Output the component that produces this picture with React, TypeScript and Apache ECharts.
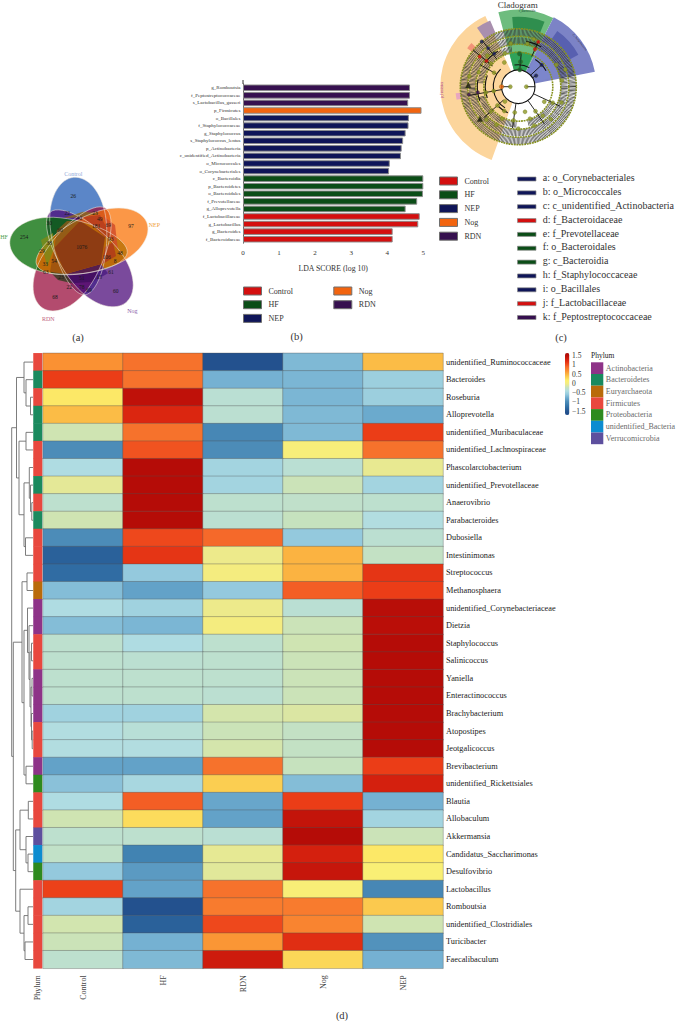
import React, { useEffect, useRef } from "react";
import * as echarts from "echarts";

const SERIF = "'Liberation Serif', serif";

// ---------- (b) LDA ----------
const ldaGroups = ["Control", "HF", "NEP", "Nog", "RDN"];
const ldaColors = ["#d40f0f", "#0b4d17", "#0f1558", "#f2640f", "#36104f"];
const ldaNames = [
  "g_Romboutsia", "f_Peptostreptococcaceae", "s_Lactobacillus_gasseri", "p_Firmicutes", "o_Bacillales",
  "f_Staphylococcaceae", "g_Staphylococcus", "s_Staphylococcus_lentus", "p_Actinobacteria", "c_unidentified_Actinobacteria",
  "o_Micrococcales", "o_Corynebacteriales", "c_Bacteroidia", "p_Bacteroidetes", "o_Bacteroidales",
  "f_Prevotellaceae", "g_Alloprevotella", "f_Lactobacillaceae", "g_Lactobacillus", "g_Bacteroides", "f_Bacteroidaceae",
];
const ldaValues = [4.63, 4.63, 4.58, 4.95, 4.6, 4.59, 4.51, 4.44, 4.4, 4.38, 4.07, 4.05, 5, 5, 4.99, 4.83, 4.51, 4.9, 4.86, 4.15, 4.15];
const ldaGroupOf = ["RDN", "RDN", "RDN", "Nog", "NEP", "NEP", "NEP", "NEP", "NEP", "NEP", "NEP", "NEP", "HF", "HF", "HF", "HF", "HF", "Control", "Control", "Control", "Control"];

// ---------- (d) heatmap ----------
const samples = ["Control", "HF", "RDN", "Nog", "NEP"];
const genera = [
  "unidentified_Ruminococcaceae", "Bacteroides", "Roseburia", "Alloprevotella", "unidentified_Muribaculaceae",
  "unidentified_Lachnospiraceae", "Phascolarctobacterium", "unidentified_Prevotellaceae", "Anaerovibrio", "Parabacteroides",
  "Dubosiella", "Intestinimonas", "Streptococcus", "Methanosphaera", "unidentified_Corynebacteriaceae",
  "Dietzia", "Staphylococcus", "Salinicoccus", "Yaniella", "Enteractinococcus",
  "Brachybacterium", "Atopostipes", "Jeotgalicoccus", "Brevibacterium", "unidentified_Rickettsiales",
  "Blautia", "Allobaculum", "Akkermansia", "Candidatus_Saccharimonas", "Desulfovibrio",
  "Lactobacillus", "Romboutsia", "unidentified_Clostridiales", "Turicibacter", "Faecalibaculum",
];
const zScores = [
  [0.68, 0.85, -1.55, -0.7, 0.45],
  [1.1, 0.85, -0.75, -0.72, -0.55],
  [0.2, 1.45, -0.33, -0.72, -0.55],
  [0.45, 1.25, -0.32, -0.7, -0.8],
  [-0.18, 0.85, -1.05, -0.7, 1.1],
  [-1.0, 1.0, -1.0, 0.06, 0.85],
  [-0.42, 1.55, -0.5, -0.33, -0.07],
  [-0.09, 1.55, -0.5, -0.2, -0.5],
  [-0.3, 1.55, -0.3, -0.28, -0.3],
  [-0.18, 1.55, -0.32, -0.22, -0.4],
  [-1.0, 1.05, 0.9, -0.6, -0.32],
  [-1.4, 1.15, -0.05, 0.5, -0.25],
  [-1.3, -0.6, 0.02, 0.5, 1.15],
  [-0.68, -0.85, -0.6, 0.95, 1.1],
  [-0.42, -0.52, -0.05, -0.33, 1.52],
  [-0.68, -0.72, 0.02, -0.2, 1.5],
  [-0.3, -0.42, -0.3, -0.18, 1.55],
  [-0.3, -0.32, -0.3, -0.2, 1.55],
  [-0.3, -0.3, -0.3, -0.2, 1.55],
  [-0.3, -0.3, -0.32, -0.2, 1.55],
  [-0.52, -0.52, -0.16, -0.13, 1.55],
  [-0.4, -0.35, -0.2, -0.25, 1.55],
  [-0.4, -0.4, -0.16, -0.25, 1.55],
  [-0.85, -0.85, 0.85, -0.22, 1.1],
  [-0.65, -0.47, 0.35, -0.68, 1.3],
  [-0.42, 0.95, -0.82, 1.1, -0.75],
  [-0.18, 0.27, -0.85, 1.42, -0.5],
  [-0.3, -0.3, -0.33, 1.55, -0.2],
  [-0.27, -1.1, -0.08, 1.3, 0.2],
  [-0.6, -0.9, -0.1, 1.4, 0.1],
  [1.08, -0.85, 0.85, 0.08, -1.05],
  [-0.5, -1.55, 0.8, 0.8, 0.38],
  [-0.17, -1.4, 1.05, 0.75, -0.18],
  [-0.2, -0.75, 0.65, 1.2, -0.95],
  [-0.3, -0.7, 1.35, 0.3, -0.75],
];
const heatPalette = [
  "#1c4a8a", "#24528e", "#2c679f", "#3b7dae", "#4f8fba", "#6eaccf", "#95cadd", "#b1dde2", "#c6e2bf", "#f0eb86",
  "#fdf06e", "#fbd052", "#fbae3e", "#fa8a31", "#f5692a", "#ec3f18", "#d8220f", "#bd1009", "#ac0805",
];
const colorbarTicks = ["1.5", "1", "0.5", "0", "−0.5", "−1", "−1.5"];
const phyla = ["Actinobacteria", "Bacteroidetes", "Euryarchaeota", "Firmicutes", "Proteobacteria", "unidentified_Bacteria", "Verrucomicrobia"];
const phylaColors = ["#8e3388", "#1a8a5e", "#b96a0a", "#e8483e", "#2e8a1e", "#0d8cd0", "#5d4f9e"];
const phylumOfRow = [3, 1, 3, 1, 1, 3, 3, 1, 3, 1, 3, 3, 3, 2, 0, 0, 3, 3, 0, 0, 0, 3, 3, 0, 4, 3, 3, 6, 5, 4, 3, 3, 3, 3, 3];

type Tree = number | [number, Tree, Tree];
const dendrogram: Tree = [21.3,
  [16.5,
    [9, 0, [7, 1, [2.5, 2, 3]]],
    [14, [7, 4, 5], [9, [3.7, 6, [2.5, 7, [1.2, 8, 9]]], [7.5, 10, 11]]],
  ],
  [19.7,
    [11,
      [6, 12, 13],
      [9, [5.5, 14, [4, 15, [3, [1.5, 16, 17], [2, [1, 18, 19], [1.5, 20, [0.8, 21, 22]]]]]], [7, 23, 24]],
    ],
    [17.3,
      [13, [4.7, 25, 26], [7, 27, [5, 28, 29]]],
      [13, 30, [9, [5, 31, 32], [8, 33, 34]]],
    ],
  ],
];

// ---------- (a) Venn ----------
const vennSets = ["Control", "NEP", "Nog", "RDN", "HF"];
// colours chosen so that each petal, at its opacity, shows its colour on white
const vennColors = ["#5b86c8", "#f96f00", "#4e0e7b", "#9a0f3e", "#006900"];
const vennOpacity = [1, 0.72, 0.75, 0.75, 0.75];
const vennTurn = [5.5, -69, -140, 148, 84.5];
const vennLabelColors = ["#8fa9d8", "#f0a040", "#8a5aa8", "#c0607e", "#4f9f4f"];
const vennSetLabelPos = [[73.3, 174.3], [154.3, 225.3], [132.3, 311.3], [48.3, 319], [4, 237.3]];
const vennCounts = ["26", "254", "97", "60", "68", "22", "23", "40", "30", "60", "181", "69", "49", "93", "38", "29", "1076", "106", "48", "8", "54", "33", "63", "23", "51", "15", "61", "22", "78", "69"];
const vennCountPos = [
  [73.3, 196], [24, 236.7], [131, 226], [115.7, 291.3], [55, 297], [67.3, 213.3], [95, 212.7], [79.3, 218], [49.3, 223.3], [60, 230],
  [96, 226], [108.3, 225.3], [99.7, 219], [110.7, 239.3], [49.3, 242.7], [42, 251.3], [81.7, 247], [106.7, 257], [120, 253.3], [115, 261],
  [54, 260.7], [45.3, 264.3], [45.7, 272.3], [61, 277], [81.7, 278.3], [99.3, 277], [111, 272], [69.3, 287.3], [81.7, 287.3], [89, 290.3],
];
const vennCore = [[54.3, 247.7], [80, 220.7], [105, 237.3], [101, 264], [65.7, 274]];
// shaded overlap regions of the Venn: colour, then outline
const vennPatchColors = ["#b33a1e", "#cf4a2a", "#b0381c", "#8b5a1a", "#9a5010", "#7d8a1a", "#3f0f5e", "#4a1c80", "#343a20", "#8b6a1e"];
const vennPatches = [
  [[83, 217], [100, 215], [112, 238], [105, 237]],
  [[103, 216], [115, 225], [118, 250], [113, 243]],
  [[105, 247], [113, 242], [116, 256], [101, 265]],
  [[54.3, 247.7], [57, 230], [67, 221], [80, 220.7]],
  [[54.3, 247.7], [65.7, 274], [50, 271.7]],
  [[41, 240], [53, 233], [54.3, 247.7], [47, 267]],
  [[65.7, 274], [101, 264], [93, 281.7], [72, 283.3]],
  [[101, 264], [93, 281.7], [108, 273.3]],
  [[50, 271.7], [65.7, 274], [72, 283.3], [58, 280]],
  [[63, 218.3], [83, 211.7], [100, 213.3], [83, 217]],
];

// ---------- (c) cladogram ----------
const cladeNames = ["a: o_Corynebacteriales", "b: o_Micrococcales", "c: c_unidentified_Actinobacteria", "d: f_Bacteroidaceae", "e: f_Prevotellaceae", "f: o_Bacteroidales", "g: c_Bacteroidia", "h: f_Staphylococcaceae", "i: o_Bacillales", "j: f_Lactobacillaceae", "k: f_Peptostreptococcaceae"];
const cladeGroup = [2, 2, 2, 0, 1, 1, 1, 2, 2, 0, 4];
// [radius, angle]
const cladeOlive = [[8, 180], [8, 0], [25, 190], [33, 190], [28, 222], [37, 222], [46, 226], [28, 240], [36, 243], [44, 240], [20, 228], [26, 262], [34, 262], [42, 270], [26, 285], [34, 290], [42, 292], [30, 305], [38, 310], [46, 315], [30, 330], [38, 335], [46, 340], [28, 150], [36, 140], [44, 135], [28, 120], [36, 112], [44, 100], [44, 78], [50, 72], [44, 30], [50, 20], [44, 8], [50, 168], [42, 160]];
const cladeGreen = [[17, 85], [25, 85], [33, 88]];
const cladeRed = [[41, 66], [49, 66], [49, 142], [41, 141]];
const cladeNavy = [[21, 32], [32, 43], [58, 129], [49, 128], [41, 126]];
const cladePurple = [[50, 189], [41, 188]];
const cladeOrange = [[16.7, 180]];
const cladeTriangles = [[50, 178], [50, 220]];
// [radius, width, from angle, to angle]
const hatchBands = [[54.2, 7.4, 0, 360], [46, 7, 0, 360], [38, 6, 100, 175], [38, 6, 195, 268], [38, 6, 285, 335]];
const oliveRings = [58, 50.5, 42.5, 34.5];
// [radius, from angle, to angle]
const branchArcs = [[16.7, 0, 360], [25, 135, 238], [33, 160, 200], [28, 225, 248], [46, 60, 80], [41, 120, 145], [22, 60, 100], [32, 30, 58], [41, 170, 200]];
// [angle, inner radius, outer radius]
const branchSpokes = [[180, 8, 16.7], [0, 8, 16.7], [190, 16.7, 50], [222, 20, 46], [262, 17, 42], [305, 17, 46], [335, 17, 46], [85, 17, 33], [66, 33, 50], [141, 33, 58], [128, 35, 58], [43, 17, 32], [32, 17, 21], [150, 25, 44]];
// [inner, outer, from angle, to angle, colour, opacity]
const cladeSectors: [number, number, number, number, string, number][] = [
  [16.7, 78, 115, 250, "#fcd59c", 1],
  [16.7, 77, 63, 105, "#6ebc7e", 1],
  [16.7, 35, 65, 105, "#2fa35a", 1],
  [58, 70, 68, 95, "#2f8e4e", 1],
  [16.7, 78, 11, 63, "#7c83c6", 1],
  [16.7, 36, 15, 60, "#7c86cc", 1],
  [58, 68, 28, 55, "#5860b0", 1],
  [58, 72, 113, 125, "#a98fae", 1],
  [58, 64, 137, 143, "#f29478", 1],
  [58, 63, 186, 192, "#e8a6c0", 1],
];

// ---------- page furniture ----------
const captions = [["(a)", 78, 337.7], ["(b)", 296.7, 336.7], ["(c)", 561, 337], ["(d)", 342, 1015.7]];
echarts.graphic.registerShape("vennPetal", echarts.graphic.extendPath(
  "M0,47 C-14,47 -30,8 -28,-30 C-26,-56 -13,-71 0,-71 C13,-71 26,-56 28,-30 C30,8 14,47 0,47 Z", {}));

function deg(a: number) { return (-a * Math.PI) / 180; }

function layoutTree(t: Tree, rows: number[][]): { h: number; y: number } {
  if (typeof t === "number") return { h: 0, y: t + 0.5 };
  const a = layoutTree(t[1], rows);
  const b = layoutTree(t[2], rows);
  rows.push([t[0], a.y, a.h, b.y, b.h]);
  return { h: t[0], y: (a.y + b.y) / 2 };
}

export default function App() {
  const ref = useRef<HTMLDivElement>(null);
  useEffect(() => {
    document.body.style.margin = "0";
    const chart = echarts.init(ref.current!, undefined, { renderer: "svg" });

    const CX = 518.3, CY = 86.7;
    const txt = (text: string, x: number, y: number, fontSize: number, fill = "#222", extra: any = {}) => ({
      type: "text", x, y, silent: true,
      style: { text, fontFamily: SERIF, fontSize, fill, align: "left", verticalAlign: "middle", ...extra },
    });
    const graphics: any[] = [];

    // Venn
    const vennOrder = [0, 3, 2, 4, 1];
    const vennCX = 80.5, vennCY = 248;
    const petal = (i: number, style: any) => ({
      type: "vennPetal", x: vennCX, y: vennCY, rotation: (vennTurn[i] * Math.PI) / 180, silent: true, style,
    });
    vennOrder.forEach((i) => graphics.push(petal(i, { fill: vennColors[i], opacity: vennOpacity[i] })));
    vennPatches.forEach((points, i) => graphics.push({
      type: "polygon", silent: true, shape: { points }, style: { fill: vennPatchColors[i], opacity: 0.82 },
    }));
    graphics.push({ type: "polygon", silent: true, shape: { points: vennCore }, style: { fill: "#8c3a14", opacity: 0.96 } });
    vennOrder.forEach((i) => graphics.push(petal(i, { fill: "none", stroke: "#efe9df", lineWidth: 0.6, opacity: 0.85 })));
    vennSets.forEach((s, i) => graphics.push(txt(s, vennSetLabelPos[i][0], vennSetLabelPos[i][1], 6, vennLabelColors[i], { align: "center" })));
    vennCounts.forEach((c, i) => graphics.push(txt(c, vennCountPos[i][0], vennCountPos[i][1], 5.5, "#1a1a1a", { align: "center" })));

    // Cladogram
    graphics.push(txt("Cladogram", 517.7, 4.5, 9, "#333", { align: "center" }));
    cladeSectors.forEach(([r0, r, a1, a2, fill, opacity]) => graphics.push({
      type: "sector", silent: true,
      shape: { cx: CX, cy: CY, r0, r, startAngle: deg(a1), endAngle: deg(a2), clockwise: false },
      style: { fill, opacity },
    }));
    hatchBands.forEach(([r, w, a1, a2]) => graphics.push({
      type: "arc", silent: true,
      shape: { cx: CX, cy: CY, r, startAngle: deg(a1), endAngle: deg(a2), clockwise: false },
      style: { stroke: "#333", fill: "none", lineWidth: w, lineDash: [0.6, 0.7] },
    }));
    oliveRings.forEach((r) => graphics.push({
      type: "circle", silent: true, shape: { cx: CX, cy: CY, r },
      style: { stroke: "#87921f", fill: "none", lineWidth: 1.6, lineDash: [1.8, 0.8] },
    }));
    graphics.push({ type: "circle", silent: true, shape: { cx: CX, cy: CY, r: 16.7 }, style: { fill: "#fff" } });
    branchArcs.forEach(([r, a1, a2]) => graphics.push({
      type: "arc", silent: true,
      shape: { cx: CX, cy: CY, r, startAngle: deg(a1), endAngle: deg(a2), clockwise: false },
      style: { stroke: "#111", fill: "none", lineWidth: 1.1 },
    }));
    branchSpokes.forEach(([a, r1, r2]) => {
      const c = Math.cos((a * Math.PI) / 180), s = Math.sin((a * Math.PI) / 180);
      graphics.push({
        type: "line", silent: true,
        shape: { x1: CX + r1 * c, y1: CY - r1 * s, x2: CX + r2 * c, y2: CY - r2 * s },
        style: { stroke: "#111", lineWidth: 0.9 },
      });
    });
    graphics.push({ ...txt("p_Firmicutes", 441.5, 90, 3, "#a0208a", { align: "center" }), rotation: Math.PI / 2 });
    graphics.push(txt("c_Bacteroidia", 527, 11, 3, "#143", { align: "center" }));
    graphics.push({ ...txt("p_Actinobacteria", 580, 42, 3, "#223", { align: "center" }), rotation: -0.9 });

    // Cladogram key
    cladeNames.forEach((name, i) => {
      const y = 177.7 + i * 13.85;
      graphics.push({
        type: "rect", silent: true, shape: { x: 517.5, y: y - 0.7, width: 18.5, height: 4 },
        style: { fill: ldaColors[cladeGroup[i]], stroke: "#8a8a8a", lineWidth: 0.7 },
      });
      graphics.push(txt(name, 542.7, y, 10, "#333"));
    });

    // Colour-bar ticks and phylum heading
    colorbarTicks.forEach((t, i) => graphics.push(txt(t, 572, 355.7 + i * 9.25, 7.5, "#333")));
    graphics.push(txt("Phylum", 591, 355.5, 7.5, "#222"));

    graphics.push({ type: "line", silent: true, shape: { x1: 243, y1: 80, x2: 243, y2: 84 }, style: { stroke: "#333", lineWidth: 1 } });

    captions.forEach(([t, x, y]) => graphics.push(txt(t as string, x as number, y as number, 10.5, "#333", { align: "center" })));

    const ldaSeries = ldaGroups.map((g, gi) => ({
      name: g, type: "bar", stack: "lda", xAxisIndex: 0, yAxisIndex: 0, barWidth: 6.55,
      itemStyle: { color: ldaColors[gi], borderColor: "#8a8a8a", borderWidth: 0.95 },
      data: ldaValues.map((v, i) => (ldaGroupOf[i] === g ? v : null)),
    }));

    const heatData: number[][] = [];
    zScores.forEach((row, y) => row.forEach((v, x) => heatData.push([x, y, v])));

    const dendroRows: number[][] = [];
    layoutTree(dendrogram, dendroRows);

    const cladeScatter = (data: number[][], color: string, size: number, symbol = "circle") => ({
      type: "scatter", coordinateSystem: "polar", polarIndex: 0, data, symbolSize: size, symbol, z: 5,
      itemStyle: { color, borderColor: "#5c6414", borderWidth: 0.4 },
    });

    const legendBase = {
      orient: "vertical", icon: "rect", itemWidth: 18, itemHeight: 8, selectedMode: false, padding: 0,
      textStyle: { fontFamily: SERIF, fontSize: 8, color: "#333", padding: [0, 0, 0, 2] },
      itemStyle: { borderColor: "#6f6f6f", borderWidth: 1 },
    };

    const option: any = {
      animation: false,
      textStyle: { fontFamily: SERIF },
      legend: [
        { ...legendBase, data: ["Control", "HF", "NEP"], left: 243, top: 286.5, itemGap: 4.7 },
        { ...legendBase, data: ["Nog", "RDN"], left: 333.3, top: 286.5, itemGap: 4.7 },
        { ...legendBase, data: ldaGroups, left: 439, top: 176.5, itemGap: 4.8 },
      ],
      grid: [
        { left: 243, width: 180.3, top: 84, height: 159 },
        { left: 43, width: 400, top: 353.3, height: 615 },
        { left: 33.5, width: 8.5, top: 353.3, height: 615 },
        { left: 10, width: 23, top: 353.3, height: 615 },
      ],
      xAxis: [
        {
          gridIndex: 0, type: "value", min: 0, max: 5, interval: 1,
          name: "LDA SCORE (log 10)", nameLocation: "middle", nameGap: 21,
          nameTextStyle: { fontFamily: SERIF, fontSize: 7.8, color: "#333" },
          axisLine: { lineStyle: { color: "#555", width: 0.8 } },
          axisTick: { length: 2, lineStyle: { color: "#555", width: 0.8 } },
          axisLabel: { fontFamily: SERIF, fontSize: 7, color: "#333", margin: 6.5 },
          splitLine: { show: false },
        },
        {
          gridIndex: 1, type: "category", data: samples, position: "bottom",
          axisLine: { show: false }, axisTick: { show: false }, splitLine: { show: false },
          axisLabel: { rotate: 90, fontFamily: SERIF, fontSize: 8, color: "#444", margin: 7 },
        },
        {
          gridIndex: 2, type: "category", data: ["Phylum"], position: "bottom",
          axisLine: { show: false }, axisTick: { show: false },
          axisLabel: { rotate: 90, fontFamily: SERIF, fontSize: 8, color: "#444", margin: 7 },
        },
        { gridIndex: 3, type: "value", min: 0, max: 23, inverse: true, show: false },
        {
          gridIndex: 0, type: "value", min: 0, max: 5, interval: 1, position: "top", offset: 2,
          axisLine: { show: false }, axisLabel: { show: false }, splitLine: { show: false },
          axisTick: { length: 2, lineStyle: { color: "#444", width: 0.8 } },
        },
      ],
      yAxis: [
        {
          gridIndex: 0, type: "category", data: ldaNames, inverse: true,
          axisLine: { lineStyle: { color: "#333", width: 0.9 } }, axisTick: { show: false },
          axisLabel: { fontFamily: SERIF, fontSize: 5, color: "#333", margin: 2.5, interval: 0 },
        },
        {
          gridIndex: 1, type: "category", data: genera, inverse: true, position: "right",
          axisLine: { show: false }, axisTick: { show: false },
          axisLabel: { fontFamily: SERIF, fontSize: 8.3, color: "#1a1a1a", margin: 3, interval: 0 },
        },
        { gridIndex: 2, type: "category", data: genera, inverse: true, show: false },
        { gridIndex: 3, type: "value", min: 0, max: genera.length, inverse: true, show: false },
        {
          gridIndex: 0, type: "category", data: ldaNames, inverse: true, position: "right",
          axisLine: { lineStyle: { color: "#777", width: 0.8, type: "dotted" } },
          axisTick: { show: false }, axisLabel: { show: false },
        },
      ],
      polar: { center: [CX, CY], radius: 58 },
      radiusAxis: { min: 0, max: 58, show: false },
      angleAxis: { min: 0, max: 360, startAngle: 0, clockwise: false, show: false },
      visualMap: [
        {
          type: "continuous", seriesIndex: 5, min: -1.72, max: 1.65, calculable: false, orient: "vertical",
          left: 565, top: 353, itemWidth: 4.4, itemHeight: 62, padding: 0, text: null,
          inRange: { color: heatPalette },
        },
        {
          type: "piecewise", seriesIndex: 6, orient: "vertical", inverse: true, left: 591, top: 362.3, align: "left",
          itemWidth: 12.3, itemHeight: 11.7, itemGap: 0, itemSymbol: "rect", padding: 0, textGap: 2.5, selectedMode: false,
          textStyle: { fontFamily: SERIF, fontSize: 8, color: "#6a6a6a" },
          pieces: phyla.map((label, i) => ({ value: i, label, color: phylaColors[i] })),
        },
      ],
      graphic: { elements: graphics },
      series: [
        ...ldaSeries,
        {
          type: "heatmap", xAxisIndex: 1, yAxisIndex: 1, data: heatData,
          itemStyle: { borderColor: "rgba(80,80,80,0.45)", borderWidth: 0.8 },
        },
        {
          type: "heatmap", xAxisIndex: 2, yAxisIndex: 2,
          data: phylumOfRow.map((p, y) => [0, y, p]),
          itemStyle: { borderWidth: 0 },
        },
        {
          type: "custom", xAxisIndex: 3, yAxisIndex: 3, data: dendroRows, clip: false, silent: true,
          renderItem: (_: any, api: any) => {
            const [h, ya, ha, yb, hb] = [0, 1, 2, 3, 4].map((i) => api.value(i));
            return {
              type: "polyline",
              shape: { points: [api.coord([ha, ya]), api.coord([h, ya]), api.coord([h, yb]), api.coord([hb, yb])] },
              style: { stroke: "#6e6e6e", fill: "none", lineWidth: 0.9 },
            };
          },
        },
        cladeScatter(cladeOlive, "#8f9a24", 4),
        cladeScatter(cladeGreen, "#14612c", 4.5),
        cladeScatter(cladeRed, "#e01010", 3.8),
        cladeScatter(cladeNavy, "#161a5e", 3.8),
        cladeScatter(cladePurple, "#3a1055", 3.8),
        cladeScatter(cladeOrange, "#f26a10", 4.5),
        cladeScatter(cladeTriangles, "#111", 6, "triangle"),
      ],
    };
    chart.setOption(option);
    return () => chart.dispose();
  }, []);
  return <div ref={ref} style={{ width: 688, height: 1021 }} />;
}
